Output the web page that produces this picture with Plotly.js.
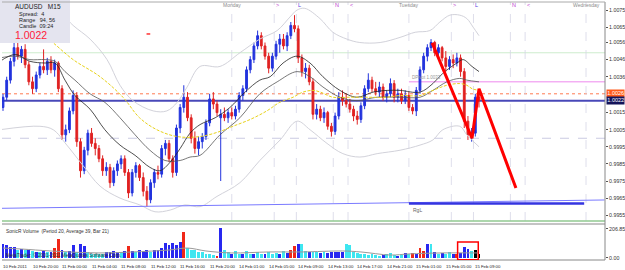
<!DOCTYPE html>
<html><head><meta charset="utf-8">
<script src="https://cdn.plot.ly/plotly-3.0.1.min.js"></script>
<style>html,body{margin:0;padding:0;background:#fff}#chart{width:625px;height:270px}</style>
</head><body><div id="chart"></div>
<script>
// ---- candles (30-minute groups), AUDUSD ----
const openP = [1.0018,1.0024,1.0034,1.0045,1.0053,1.0048,1.0052,1.0043,1.0033,1.0029,
1.0037,1.0042,1.0040,1.0045,1.0040,1.0044,1.0029,1.0002,1.0005,1.0016,
1.0025,0.9998,0.9981,0.9993,1.0003,0.9997,0.9994,0.9988,0.9981,0.9983,
0.9974,0.9981,0.9985,0.9988,0.9980,0.9968,0.9980,0.9984,0.9977,0.9969,
0.9964,0.9974,0.9980,0.9979,0.9994,0.9997,0.9988,0.9980,1.0006,1.0018,
1.0024,1.0012,1.0000,0.9994,0.9998,1.0001,1.0009,1.0023,1.0020,1.0012,
1.0014,1.0012,1.0015,1.0013,1.0017,1.0025,1.0029,1.0040,1.0046,1.0054,
1.0060,1.0054,1.0048,1.0041,1.0048,1.0055,1.0058,1.0054,1.0060,1.0066,
1.0064,1.0047,1.0039,1.0041,1.0033,1.0014,1.0017,1.0012,1.0015,1.0007,
1.0004,1.0013,1.0024,1.0022,1.0020,1.0017,1.0013,1.0011,1.0019,1.0029,
1.0034,1.0029,1.0027,1.0030,1.0024,1.0026,1.0032,1.0024,1.0026,1.0022,
1.0025,1.0018,1.0016,1.0028,1.0040,1.0048,1.0053,1.0056,1.0050,1.0053,
1.0047,1.0042,1.0046,1.0044,1.0047,1.0039,1.0010,1.0002,1.0003,1.0024];
const highP = [1.0026,1.0036,1.0047,1.0057,1.0058,1.0054,1.0055,1.0045,1.0036,1.0039,
1.0044,1.0052,1.0047,1.0048,1.0046,1.0045,1.0031,1.0008,1.0018,1.0028,
1.0027,1.0000,0.9995,1.0005,1.0006,1.0000,0.9996,0.9990,0.9986,0.9985,
0.9983,0.9987,0.9990,0.9990,0.9982,0.9982,0.9986,0.9985,0.9980,0.9972,
0.9976,0.9982,0.9984,0.9996,0.9999,0.9999,0.9990,1.0008,1.0020,1.0031,
1.0027,1.0014,1.0004,1.0001,1.0003,1.0011,1.0026,1.0027,1.0022,1.0017,
1.0018,1.0017,1.0018,1.0019,1.0027,1.0031,1.0042,1.0048,1.0056,1.0063,
1.0062,1.0056,1.0050,1.0050,1.0057,1.0061,1.0061,1.0062,1.0068,1.0072,
1.0066,1.0049,1.0044,1.0043,1.0035,1.0020,1.0019,1.0018,1.0016,1.0009,
1.0015,1.0027,1.0028,1.0026,1.0023,1.0019,1.0016,1.0021,1.0031,1.0038,
1.0036,1.0033,1.0033,1.0032,1.0028,1.0035,1.0034,1.0029,1.0029,1.0028,
1.0027,1.0020,1.0030,1.0042,1.0050,1.0055,1.0058,1.0057,1.0055,1.0054,
1.0051,1.0048,1.0049,1.0050,1.0049,1.0041,1.0013,1.0006,1.0026,1.0028];
const lowP = [1.0016,1.0022,1.0032,1.0042,1.0046,1.0044,1.0041,1.0031,1.0026,1.0027,
1.0035,1.0038,1.0037,1.0038,1.0036,1.0027,0.9999,0.9998,1.0003,1.0014,
0.9995,0.9977,0.9979,0.9990,0.9995,0.9990,0.9986,0.9978,0.9978,0.9971,
0.9972,0.9978,0.9982,0.9978,0.9965,0.9966,0.9977,0.9975,0.9966,0.9960,
0.9962,0.9971,0.9976,0.9977,0.9990,0.9986,0.9977,0.9978,1.0003,1.0015,
1.0010,0.9997,0.9991,0.9990,0.9994,0.9999,1.0007,1.0017,1.0013,0.9975,
1.0010,1.0009,1.0011,1.0011,1.0015,1.0022,1.0027,1.0038,1.0044,1.0052,
1.0052,1.0046,1.0038,1.0039,1.0046,1.0050,1.0052,1.0051,1.0058,1.0062,
1.0044,1.0036,1.0035,1.0031,1.0011,1.0011,1.0010,1.0009,1.0005,1.0001,
1.0002,1.0011,1.0019,1.0018,1.0015,1.0010,1.0008,1.0009,1.0017,1.0027,
1.0027,1.0025,1.0024,1.0022,1.0021,1.0024,1.0021,1.0021,1.0020,1.0020,
1.0016,1.0014,1.0013,1.0026,1.0038,1.0045,1.0051,1.0048,1.0047,1.0045,
1.0039,1.0040,1.0041,1.0042,1.0036,1.0006,0.9999,0.9998,1.0001,1.0018];
const closeP = [1.0024,1.0034,1.0045,1.0053,1.0048,1.0052,1.0043,1.0033,1.0029,1.0037,
1.0042,1.0040,1.0045,1.0040,1.0044,1.0029,1.0002,1.0005,1.0016,1.0025,
0.9998,0.9981,0.9993,1.0003,0.9997,0.9994,0.9988,0.9981,0.9983,0.9974,
0.9981,0.9985,0.9988,0.9980,0.9968,0.9980,0.9984,0.9977,0.9969,0.9964,
0.9974,0.9980,0.9979,0.9994,0.9997,0.9988,0.9980,1.0006,1.0018,1.0024,
1.0012,1.0000,0.9994,0.9998,1.0001,1.0009,1.0023,1.0020,1.0015,1.0014,
1.0012,1.0015,1.0013,1.0017,1.0025,1.0029,1.0040,1.0046,1.0054,1.0060,
1.0054,1.0048,1.0041,1.0048,1.0055,1.0058,1.0054,1.0060,1.0066,1.0064,
1.0047,1.0039,1.0041,1.0033,1.0014,1.0017,1.0012,1.0015,1.0007,1.0004,
1.0013,1.0024,1.0022,1.0020,1.0017,1.0013,1.0011,1.0019,1.0029,1.0034,
1.0029,1.0027,1.0030,1.0024,1.0026,1.0032,1.0024,1.0026,1.0022,1.0025,
1.0018,1.0016,1.0028,1.0040,1.0048,1.0053,1.0056,1.0050,1.0053,1.0047,
1.0042,1.0046,1.0044,1.0047,1.0039,1.0010,1.0002,1.0003,1.0024,1.0022];

// ---- volume (sub-window) ----
const volume = [100,90,80,78,60,64,55,60,50,45,40,48,40,45,70,135,55,40,50,95,
45,100,85,40,30,25,30,25,40,45,50,45,40,50,86,50,45,55,50,60,
45,55,60,70,110,95,105,90,115,185,70,60,55,45,40,30,25,20,15,214,
55,40,30,48,30,25,48,30,25,45,30,25,45,30,35,30,50,35,55,86,
100,100,50,40,45,40,35,40,35,45,42,45,42,100,95,40,35,30,25,20,
25,20,15,20,25,36,20,15,20,36,25,36,30,71,50,100,100,42,30,36,
30,42,25,30,36,78,64,50,57,30];
const volumeKind = "bbbbcbcbcbcbcbrrbcbbcbbcccccbbbbcbrbcbbbcbbbbbbbbrccccccccrbccbccbccbccbcccbcbrrbccbccbcbbbbbccccccccccbcccbcbcrbrrbcbcbccbrbbbc";
const volAvgX = [0,5,13,26,35,45,50,55,62,72,81,92,97,105,110,119,129];
const volAvgY = [71,64,50,36,43,57,71,50,36,43,43,50,43,21,29,36,36];

// ---- indicator lines (x in 30-min candle units) ----
const maSlowX = [10,13.5,19,26.3,32.5,37,41.7,47.2,53.4,58.8,62.3,67,71.5,75,78.6,81.3,84,86,89.4,94,98.6,104,107.6,113,116.5,120.3,123.8,125.7,127.1,129];
const maSlowY = [1.0062,1.0056,1.0046,1.0036,1.0024,1.0012,1.0005,1.0001,1.0001,1.0004,1.0007,1.0011,1.0016,1.0021,1.0024,1.0027,1.0028,1.0027,1.0024,1.0024,1.0024,1.0024,1.0025,1.0025,1.0028,1.0031,1.0032,1.0031,1.0029,1.0028];
const maFastX = [-0.8,3.3,7.3,11.4,14.1,16.8,19.5,23.6,27.6,31.7,35.8,39.8,42.5,45.3,48,50.7,53.4,57.5,61.5,65.6,69.6,72.4,75.9,79.7,83.2,86.7,91.3,95.9,100.3,104.1,107.6,113,116.5,119.2,123,124.7,127.1,129];
const maFastY = [1.0045,1.0049,1.0045,1.0044,1.0044,1.0034,1.0025,1.0017,1.0005,0.9996,0.9990,0.9983,0.9981,0.9986,0.9994,1.0003,1.0008,1.0012,1.0018,1.0027,1.0034,1.0036,1.0044,1.0048,1.0044,1.0036,1.0028,1.0024,1.0027,1.0028,1.0028,1.0027,1.0032,1.0038,1.0044,1.0046,1.0042,1.0039];
const maMidX = [-0.8,3.3,7.3,11.4,14.1,16.8,19.5,23.6,27.6,31.7,35.8,39.8,43.9,48,50.7,53.4,58.8,64.2,69.6,74.3,79.7,83.2,86.7,91.3,95.9,101.4,107.6,113,116.5,120.3,123.8,125.7,129];
const maMidY = [1.0047,1.0048,1.0046,1.0046,1.0045,1.0039,1.0034,1.0026,1.0021,1.0012,1.0002,0.9993,0.9987,0.9987,0.9989,0.9990,1.0002,1.0012,1.0026,1.0033,1.0039,1.0036,1.0030,1.0024,1.0022,1.0024,1.0024,1.0024,1.0028,1.0033,1.0035,1.0034,1.0033];
const bandUpX = [15.4,19,23.6,28.2,31.7,35.2,40.7,44.4,47.2,49.9,53.4,58.8,64.2,69.6,74.3,77.8,79.7,81.8,85.9,89.4,93.2,96.7,102.2,107.6,111.7,115.7,118.4,121.1,123.8,125.7,127.4,129];
const bandUpY = [1.0074,1.0066,1.0058,1.0046,1.0031,1.0022,1.0016,1.0016,1.0021,1.0030,1.0042,1.0042,1.0050,1.0058,1.0063,1.0071,1.0075,1.0076,1.0070,1.0062,1.0058,1.0056,1.0056,1.0059,1.0062,1.0063,1.0068,1.0072,1.0072,1.0070,1.0065,1.0060];
const bandLoX = [-0.8,10,13.6,17.3,21.7,26.3,31.7,37.1,41.2,45.3,49.3,53.4,58,64.2,69.6,75.1,79.7,83.2,87.8,92.1,96.7,101.4,107.6,113,116.5,119.2,123.8,125.7,129];
const bandLoY = [1.0005,1.0007,1.0005,0.9996,0.9984,0.9972,0.9965,0.9961,0.9957,0.9958,0.9961,0.9960,0.9966,0.9974,0.9987,0.9999,1.0010,1.0005,0.9997,0.9991,0.9989,0.9991,0.9993,0.9996,0.9999,1.0005,1.0007,1.0002,0.9995];

// ---- hand-drawn red trend lines ----
const drawnX = [116.3,127.1,129,139];
const drawnY = [1.00558,1.0000,1.0029,0.99709];

// ---- levels ----
const levelGreen = 1.0050, levelAsk = 1.0026, levelBid = 1.0022, levelPivot = 1.0033, levelRound = 1.0000;
const rglX = [-1,163], rglY = [0.9959,0.99639];
const rglBoldX = [110,157.5], rglBoldY = [0.99618,0.99618];

// ---- axis labels ----
const priceTicks = [1.0075,1.0065,1.0056,1.0046,1.0036,1.0015,1.0005,0.9995,0.9985,0.9975,0.9965,0.9955];
const priceTickText = ["1.0075","1.0065","1.0056","1.0046","1.0036","1.0015","1.0005","0.9995","0.9985","0.9975","0.9965","0.9955"];
const timeLabels = ["10 Feb 2011","10 Feb 20:00","11 Feb 00:00","11 Feb 04:00","11 Feb 08:00","11 Feb 12:00","11 Feb 16:00","11 Feb 20:00","14 Feb 01:00","14 Feb 05:00","14 Feb 09:00","14 Feb 13:00","14 Feb 17:00","14 Feb 21:00","15 Feb 01:00","15 Feb 05:00","15 Feb 09:00"];
const timeLabelX = [0,8,16,24,32,40,48,56,64,72,80,88,96,104,112,120,128];
const dayNames = ["Monday","Tuesday","Wednesday"];
const dayX = [62,110,158];
const sessionMarks = [">","L","N","<",">","L","N","<"];
const sessionX = [73.5,79.5,89.5,93.5,121.5,127.5,137.5,141.5];

// ---- layout helpers ----
const W=625,H=270, mL=2,mR=20,mT=2,mB=10;
const plotH = H-mT-mB;
const py2paper = py => 1-(py-mT)/plotH;
const mainBottom = py2paper(221), volTop = py2paper(224);
const font = "Liberation Sans, Arial, sans-serif";

const candleX = closeP.map((_,i)=>i);
const volColorMap = {b:'#2828f0', c:'#3ee6f0', r:'#f02818'};
const volColors = volumeKind.split('').map(k=>volColorMap[k]);

const traces = [
  {type:'scatter',mode:'lines',x:bandUpX,y:bandUpY,line:{color:'#d2d2da',width:1,shape:'spline'},hoverinfo:'skip'},
  {type:'scatter',mode:'lines',x:bandLoX,y:bandLoY,line:{color:'#d2d2da',width:1,shape:'spline'},hoverinfo:'skip'},
  {type:'scatter',mode:'lines',x:rglX,y:rglY,line:{color:'#7a7aff',width:1},hoverinfo:'skip'},
  {type:'scatter',mode:'lines',x:rglBoldX,y:rglBoldY,line:{color:'#3434e0',width:2.5},hoverinfo:'skip'},
  {type:'scatter',mode:'lines',x:maMidX,y:maMidY,line:{color:'#555555',width:0.8,shape:'spline'},hoverinfo:'skip'},
  {type:'scatter',mode:'lines',x:maFastX,y:maFastY,line:{color:'#222222',width:0.8,shape:'spline'},hoverinfo:'skip'},
  {type:'candlestick',x:candleX,open:openP,high:highP,low:lowP,close:closeP,
   increasing:{line:{color:'#2233dd',width:1},fillcolor:'#2233dd'},
   decreasing:{line:{color:'#e02222',width:1},fillcolor:'#e02222'},whiskerwidth:0,hoverinfo:'skip'},
  {type:'scatter',mode:'lines',x:maSlowX,y:maSlowY,line:{color:'#e8d21a',width:1,dash:'3px,1.5px',shape:'spline'},hoverinfo:'skip'},
  {type:'scatter',mode:'lines',x:drawnX,y:drawnY,line:{color:'#ff0000',width:3},hoverinfo:'skip'},
  {type:'bar',x:candleX,y:volume,xaxis:'x',yaxis:'y2',marker:{color:volColors,line:{width:0}},width:0.78,hoverinfo:'skip'},
  {type:'scatter',mode:'lines',x:volAvgX,y:volAvgY,xaxis:'x',yaxis:'y2',line:{color:'#9a9a9a',width:1,shape:'spline'},hoverinfo:'skip'}
];

const shapes = [];
const hline = (y,color,width,dash,x0)=>shapes.push({type:'line',xref:x0===undefined?'paper':'x',x0:x0===undefined?0:x0,x1:x0===undefined?1:163.2,yref:'y',y0:y,y1:y,line:{color,width,dash},layer:'below'});
hline(levelGreen,'#cdeccd',1,'solid');
hline(levelRound,'#cacae2',1,'dash');
hline(levelAsk,'#ff7a50',1,'dot');
hline(levelBid,'#4848b8',2,'solid');
hline(levelPivot,'#ee88ee',1,'solid',110);
[...dayX,...sessionX].forEach(x=>shapes.push({type:'line',xref:'x',x0:x,x1:x,yref:'paper',y0:mainBottom,y1:1,line:{color:'#d6d6e6',width:0.8,dash:'dash'},layer:'below'}));
// info panel
shapes.push({type:'rect',xref:'paper',yref:'paper',x0:-mL/(W-mL-mR),x1:(70-mL)/(W-mL-mR),y0:py2paper(43),y1:1.01,fillcolor:'#e4e4ef',line:{width:0},layer:'above'});
// pane frames
shapes.push({type:'line',xref:'paper',yref:'paper',x0:0,x1:1,y0:mainBottom,y1:mainBottom,line:{color:'#90c890',width:1.5}});
shapes.push({type:'line',xref:'paper',yref:'paper',x0:0,x1:1,y0:volTop,y1:volTop,line:{color:'#888',width:1}});
shapes.push({type:'line',xref:'paper',yref:'paper',x0:1,x1:1,y0:0,y1:1,line:{color:'#888',width:1}});
shapes.push({type:'line',xref:'paper',yref:'paper',x0:0,x1:1,y0:1,y1:1,line:{color:'#aaa',width:1}});
shapes.push({type:'line',xref:'paper',yref:'paper',x0:0,x1:1,y0:0,y1:0,line:{color:'#888',width:1}});
// highlighted volume box
shapes.push({type:'rect',xref:'x',yref:'y2',x0:123.2,x1:128.8,y0:-12,y1:114,line:{color:'#ff0000',width:1.5},fillcolor:'rgba(0,0,0,0)'});
// small red dash (high marker)
shapes.push({type:'line',xref:'x',yref:'y',x0:38.9,x1:39.9,y0:1.0061,y1:1.0061,line:{color:'#ff3030',width:1.5}});

const ann = [];
const txt = (o)=>ann.push(Object.assign({showarrow:false,font:{family:font,size:5.5,color:'#333'}},o));
timeLabels.forEach((t,i)=>txt({text:t,xref:'x',x:timeLabelX[i],xanchor:'left',xshift:-2,yref:'paper',y:py2paper(266),yanchor:'middle',font:{family:font,size:4.3,color:'#222'}}));
dayNames.forEach((t,i)=>txt({text:t,xref:'x',x:dayX[i],xanchor:'center',yref:'paper',y:py2paper(5),yanchor:'middle',font:{family:font,size:5,color:'#8a8a8a'}}));
sessionMarks.forEach((t,i)=>txt({text:t,xref:'x',x:sessionX[i],xanchor:'left',xshift:0,yref:'paper',y:py2paper(5),yanchor:'middle',font:{family:font,size:5.5,color:t==='L'?'#5a3ae0':'#c040d0'}}));
// info panel text
const infoX = px => (px-mL)/(W-mL-mR);
txt({text:'AUDUSD   M15',xref:'paper',x:infoX(13),xanchor:'left',yref:'paper',y:py2paper(6),yanchor:'middle',font:{family:font,size:6.5,color:'#222'}});
txt({text:'Spread:  4',xref:'paper',x:infoX(17),xanchor:'left',yref:'paper',y:py2paper(14),yanchor:'middle',font:{family:font,size:5.5,color:'#222'}});
txt({text:'Range   94, 56',xref:'paper',x:infoX(17),xanchor:'left',yref:'paper',y:py2paper(20),yanchor:'middle',font:{family:font,size:5.5,color:'#222'}});
txt({text:'Candle  09:24',xref:'paper',x:infoX(17),xanchor:'left',yref:'paper',y:py2paper(26),yanchor:'middle',font:{family:font,size:5.5,color:'#222'}});
txt({text:'1.0022',xref:'paper',x:infoX(13),xanchor:'left',yref:'paper',y:py2paper(35),yanchor:'middle',font:{family:font,size:10.5,color:'#ff1a3a'}});
// level labels
txt({text:'DPivot 1.0033',xref:'x',x:110.2,xanchor:'left',yref:'y',y:levelPivot,yanchor:'bottom',font:{family:font,size:4.5,color:'#999'}});
txt({text:'RgL',xref:'x',x:110.5,xanchor:'left',yref:'y',y:0.99612,yanchor:'top',font:{family:font,size:5,color:'#666'}});
// price boxes on the axis
txt({text:'1.0026',xref:'paper',x:1,xanchor:'left',xshift:1,yref:'y',y:levelAsk,yanchor:'middle',bgcolor:'#ff5a1a',borderpad:0.3,font:{family:font,size:5.5,color:'#fff'}});
txt({text:'1.0022',xref:'paper',x:1,xanchor:'left',xshift:1,yref:'y',y:levelBid,yanchor:'middle',bgcolor:'#14145a',borderpad:0.3,font:{family:font,size:5.5,color:'#fff'}});
// current price arrow
txt({text:'\u2192',xref:'x',x:131,xanchor:'center',yref:'y',y:levelBid,yanchor:'middle',font:{family:font,size:6,color:'#ff4a20'}});
// sub-window texts
txt({text:'SonicR Volume  (Period 20, Average 39, Bar 21)',xref:'paper',x:infoX(4),xanchor:'left',yref:'paper',y:py2paper(231),yanchor:'middle',font:{family:font,size:4.8,color:'#333'}});
txt({text:'MetaTrader, \u00a9 2001-2011 MetaQuotes Software Corp.',xref:'paper',x:infoX(4),xanchor:'left',yref:'paper',y:py2paper(255),yanchor:'middle',font:{family:font,size:4.8,color:'#333'}});

const pxPerCandle = 3.69;
const layout = {
  width:W,height:H,margin:{l:mL,r:mR,t:mT,b:mB},
  paper_bgcolor:'#fff',plot_bgcolor:'#fff',showlegend:false,
  xaxis:{range:[-1/pxPerCandle, (W-mL-mR)/pxPerCandle-1/pxPerCandle],showgrid:false,zeroline:false,showticklabels:false,ticks:'',rangeslider:{visible:false},fixedrange:true},
  yaxis:{domain:[mainBottom,1],range:[0.99516,1.00797],side:'right',tickvals:priceTicks,ticktext:priceTickText,ticks:'outside',ticklen:2,tickcolor:'#555',showgrid:false,zeroline:false,tickfont:{family:font,size:5.3,color:'#333'}},
  yaxis2:{domain:[0,volTop],range:[-14.3,242.4],side:'right',anchor:'x',tickvals:[0,206.85],ticktext:['0.00','206.85'],ticks:'outside',ticklen:2,tickcolor:'#555',showgrid:false,zeroline:false,tickfont:{family:font,size:5.3,color:'#333'}},
  shapes, annotations:ann, bargap:0
};
Plotly.newPlot('chart',traces,layout,{staticPlot:true,displayModeBar:false});
</script></body></html>
